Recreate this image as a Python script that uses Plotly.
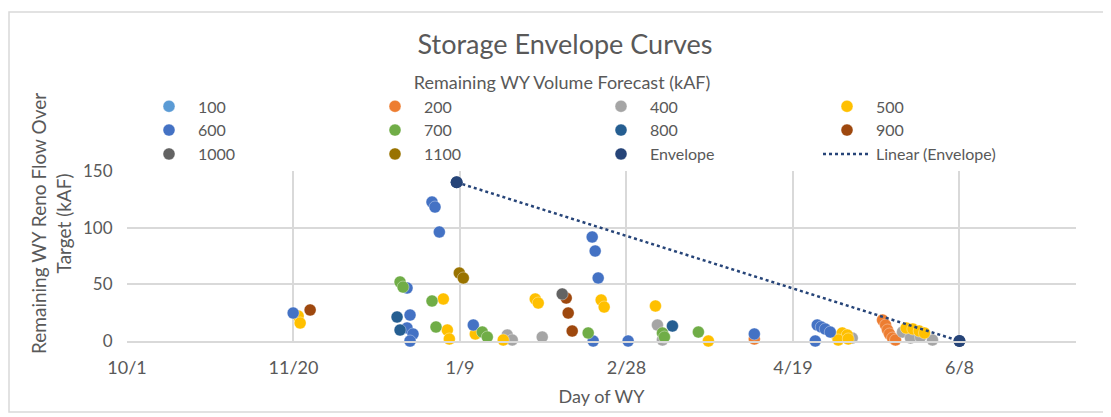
import numpy as np
import plotly.graph_objects as go

# ---- data (day of water year from 10/1, remaining kAF) ----
tick_days = [0, 50, 100, 150, 200, 250]
tick_labels = ["10/1", "11/20", "1/9", "2/28", "4/19", "6/8"]

s100_x = [85.0]
s100_y = [0.0]
s200_x = [188.4, 226.9, 227.8, 228.4, 229.0, 229.9, 230.8]
s200_y = [1.8, 18.5, 14.1, 9.7, 6.2, 2.6, 0.9]
s400_x = [114.2, 115.7, 124.7, 159.3, 160.8, 217.8, 232.9, 235.3, 238.3, 241.9]
s400_y = [5.3, 0.9, 3.5, 14.1, 0.9, 2.6, 7.9, 2.6, 3.5, 0.9]
s500_x = [51.4, 52.0, 95.0, 96.2, 96.8, 104.6, 113.0, 122.6, 123.5, 142.4, 143.3,
          158.7, 174.6, 213.3, 214.8, 216.3, 213.6, 216.6, 234.0, 236.0, 237.9, 239.5]
s500_y = [22.1, 15.9, 37.1, 9.7, 1.8, 6.2, 0.9, 37.1, 33.5, 36.2, 30.0,
          30.9, 0.0, 3.5, 7.1, 5.3, 0.9, 1.8, 11.5, 10.6, 8.8, 7.1]
s600_x = [49.9, 91.6, 92.5, 93.8, 84.1, 85.0, 84.1, 85.9, 85.0, 104.0, 139.7, 140.6,
          141.5, 140.0, 150.5, 188.4, 207.3, 208.5, 209.7, 211.2, 206.7]
s600_y = [24.7, 122.6, 118.2, 96.2, 46.8, 22.9, 11.5, 6.2, 0.0, 14.1, 91.8, 79.4,
          55.6, 0.0, 0.0, 6.2, 14.1, 12.4, 10.6, 7.9, 0.0]
s700_x = [82.0, 82.9, 91.6, 92.8, 106.7, 108.2, 138.5, 160.8, 161.4, 171.6]
s700_y = [52.1, 47.6, 35.3, 12.4, 7.9, 3.5, 7.1, 7.1, 3.5, 7.9]
s800_x = [81.1, 82.0, 163.8]
s800_y = [21.2, 9.7, 13.2]
s900_x = [55.0, 131.9, 132.5, 133.7]
s900_y = [27.4, 37.9, 24.7, 8.8]
s1000_x = [130.7]
s1000_y = [41.5]
s1100_x = [99.8, 101.0]
s1100_y = [60.0, 55.6]
env_x = [99.0, 250.0]
env_y = [140.0, 0.0]

series = [
    ("100", s100_x, s100_y, "#5B9BD5"),
    ("200", s200_x, s200_y, "#ED7D31"),
    ("400", s400_x, s400_y, "#A5A5A5"),
    ("500", s500_x, s500_y, "#FFC000"),
    ("600", s600_x, s600_y, "#4472C4"),
    ("700", s700_x, s700_y, "#70AD47"),
    ("800", s800_x, s800_y, "#255E91"),
    ("900", s900_x, s900_y, "#9E480E"),
    ("1000", s1000_x, s1000_y, "#636363"),
    ("1100", s1100_x, s1100_y, "#997300"),
    ("Envelope", env_x, env_y, "#264478"),
]

FONT = "Lato"
GREY = "#595959"

fig = go.Figure()
for name, xs, ys, col in series:
    fig.add_trace(go.Scatter(
        x=xs, y=ys, name=name, mode="markers", cliponaxis=False,
        marker=dict(size=12, color=col, line=dict(width=0.6, color="rgba(255,255,255,0.6)")),
    ))

# linear trendline of the envelope
coef = np.polyfit(env_x, env_y, 1)
tx = np.array([min(env_x), max(env_x)])
fig.add_trace(go.Scatter(
    x=tx, y=np.polyval(coef, tx), name="Linear (Envelope)", mode="lines",
    line=dict(color="#264478", width=2.5, dash="dot"),
))
# redraw envelope markers on top of the trendline
fig.add_trace(go.Scatter(x=env_x, y=env_y, mode="markers", showlegend=False, cliponaxis=False,
                         marker=dict(size=12, color="#264478")))

# page body has an 8px margin; work in screen pixels and compensate
OFF = 8
SW, SH = 1111, 417
W, H = SW - OFF, SH - OFF
L, R, T, B = 127, 1076, 171, 341  # plot area in screen pixels


def px(x):
    return (x - L) / (R - L)


def py(y):
    return (B - y) / (B - T)


legend_title = "Remaining WY Volume Forecast (kAF)" + "\u00a0" * 13

fig.update_layout(
    width=W, height=H,
    margin=dict(l=L - OFF, r=SW - R, t=T - OFF, b=SH - B, autoexpand=False),
    paper_bgcolor="white", plot_bgcolor="white",
    font=dict(family=FONT, color=GREY, size=16),
    title=dict(text="Storage Envelope Curves", x=(565 - OFF) / W, xanchor="center",
               y=1 - (45 - OFF) / H, yanchor="middle",
               font=dict(size=27, color=GREY, family=FONT)),
    legend=dict(
        orientation="h", x=px(140), xanchor="left", y=py(66), yanchor="top",
        itemwidth=48, entrywidth=163, entrywidthmode="pixels",
        title=dict(text=legend_title, side="top center",
                   font=dict(size=18, color=GREY)),
        font=dict(size=16, color=GREY), bgcolor="rgba(0,0,0,0)", tracegroupgap=0,
    ),
    xaxis=dict(
        range=[0, 285], tickvals=tick_days, ticktext=tick_labels,
        showgrid=True, gridcolor="#D9D9D9", gridwidth=1.5, zeroline=False,
        showline=True, linecolor="#D9D9D9", linewidth=1.5,
        ticks="outside", ticklen=10, tickcolor="rgba(0,0,0,0)",
        tickfont=dict(size=18, color=GREY),
        title=dict(text="Day of WY", font=dict(size=18, color=GREY), standoff=13),
        automargin=False,
    ),
    yaxis=dict(
        range=[0, 150], dtick=50, showgrid=True, gridcolor="#D9D9D9", gridwidth=1.5,
        zeroline=False, ticks="outside", ticklen=10, tickcolor="rgba(0,0,0,0)",
        tickfont=dict(size=17, color=GREY),
        automargin=False,
    ),
    annotations=[dict(
        text="Remaining WY Reno Flow Over<br>Target (kAF)", textangle=-90,
        xref="paper", yref="paper", x=px(51), y=py(224), xanchor="center", yanchor="middle",
        showarrow=False, font=dict(size=19, color=GREY, family=FONT),
    )],
    shapes=[dict(type="rect", xref="paper", yref="paper",
                 x0=px(9), x1=px(1115), y0=py(412), y1=py(12),
                 line=dict(color="#D9D9D9", width=1.5), fillcolor="rgba(0,0,0,0)", layer="below")],
)

fig.write_html("out.html")
